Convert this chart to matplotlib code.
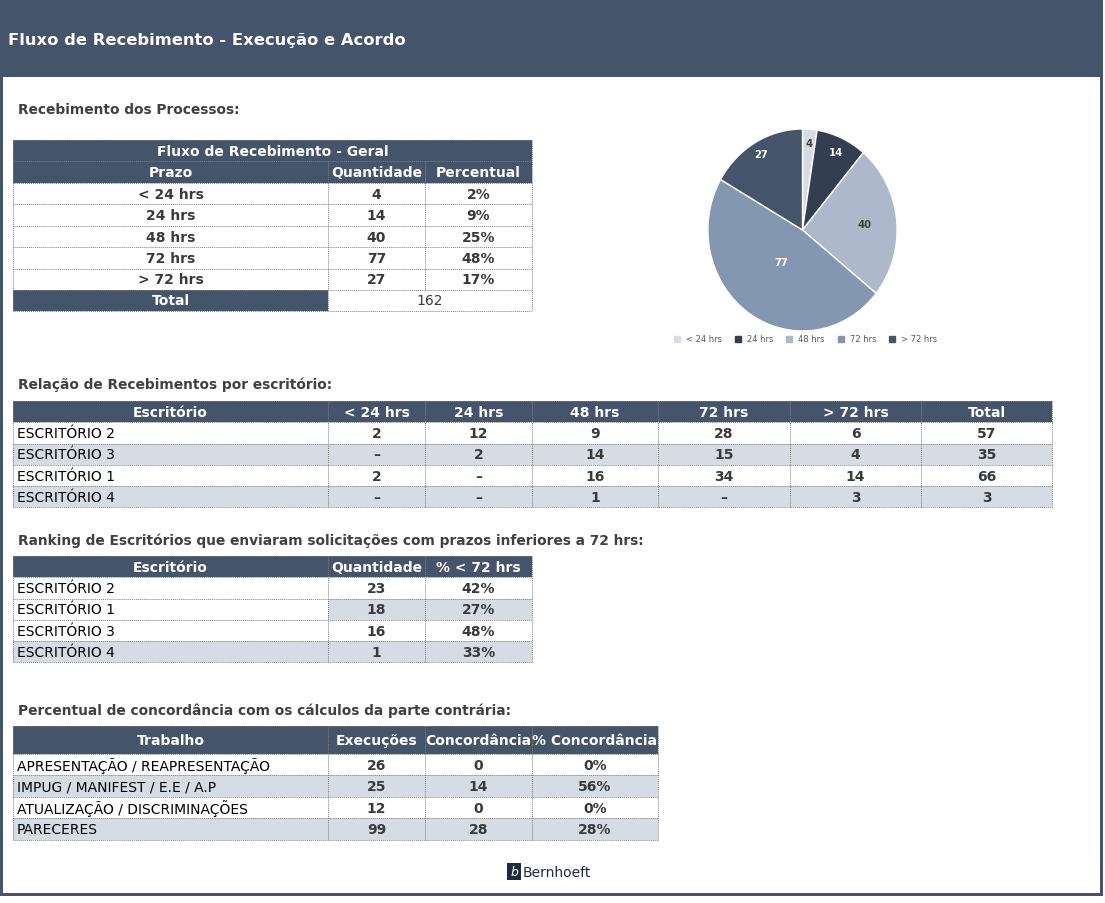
import numpy as np
import matplotlib.pyplot as plt
from matplotlib.patches import Rectangle
from matplotlib.lines import Line2D

# cores do painel
NAVY = '#44546A'
SHADE = '#D6DCE4'
GRID = '#7F7F7F'
TXT = '#3A3A3A'

# ---- dados ----
prazos = ['< 24 hrs', '24 hrs', '48 hrs', '72 hrs', '> 72 hrs']
quantidades = [4, 14, 40, 77, 27]
percentuais = ['2%', '9%', '25%', '48%', '17%']
total_geral = 162

pie_colors = ['#D6DCE4', '#333F50', '#ADB9CA', '#8497B0', '#44546A']
pie_label_colors = ['#404040', 'white', '#404040', 'white', 'white']
pie_label_r = [0.86, 0.85, 0.66, 0.39, 0.87]

escritorios = ['ESCRITÓRIO 2', 'ESCRITÓRIO 3', 'ESCRITÓRIO 1', 'ESCRITÓRIO 4']
esc_lt24 = [2, 0, 2, 0]
esc_24 = [12, 2, 0, 0]
esc_48 = [9, 14, 16, 1]
esc_72 = [28, 15, 34, 0]
esc_gt72 = [6, 4, 14, 3]
esc_total = [57, 35, 66, 3]

ranking_nomes = ['ESCRITÓRIO 2', 'ESCRITÓRIO 1', 'ESCRITÓRIO 3', 'ESCRITÓRIO 4']
ranking_qtd = [23, 18, 16, 1]
ranking_pct = ['42%', '27%', '48%', '33%']

trabalhos = ['APRESENTAÇÃO / REAPRESENTAÇÃO', 'IMPUG / MANIFEST / E.E / A.P',
             'ATUALIZAÇÃO / DISCRIMINAÇÕES', 'PARECERES']
execucoes = [26, 25, 12, 99]
concordancias = [0, 14, 0, 28]
pct_concordancia = ['0%', '56%', '0%', '28%']

FS = 10  # fonte das tabelas


def fmt(v):
    return '–' if v == 0 else str(v)


def cell(ax, x0, x1, y0, y1, text, fill='white', color=TXT, bold=True,
         ha='center', size=FS, clip=False):
    ax.add_patch(Rectangle((x0, y0), x1 - x0, y1 - y0, facecolor=fill,
                           edgecolor='none', zorder=1))
    tx = x0 + 4 if ha == 'left' else (x0 + x1) / 2
    t = ax.text(tx, (y0 + y1) / 2 + 0.5, text, ha=ha, va='center', color=color,
                fontsize=size, fontweight='bold' if bold else 'normal', zorder=3)
    if clip:
        t.set_clip_path(Rectangle((x0, y0), x1 - x0, y1 - y0,
                                  transform=ax.transData))


def grid(ax, xs, ys):
    for x in xs:
        ax.plot([x, x], [ys[0], ys[-1]], color=GRID, lw=0.7,
                ls=(0, (1, 1)), zorder=2)
    for y in ys:
        ax.plot([xs[0], xs[-1]], [y, y], color=GRID, lw=0.7,
                ls=(0, (1, 1)), zorder=2)


fig = plt.figure(figsize=(11.05, 9.04), dpi=100)
ax = fig.add_axes([0, 0, 1, 1])
ax.set_xlim(0, 1105)
ax.set_ylim(904, 0)
ax.axis('off')

# moldura
ax.add_patch(Rectangle((0, 0), 1103, 897, facecolor=NAVY, edgecolor='none', zorder=0))
ax.add_patch(Rectangle((3, 78), 1097, 816, facecolor='white', edgecolor='none', zorder=0))
ax.text(8, 41, 'Fluxo de Recebimento - Execução e Acordo', color='white',
        fontsize=11.8, fontweight='bold', va='center', ha='left')


def heading(y, text):
    ax.text(18, y, text, color='#404040', fontsize=9.9, fontweight='bold',
            va='center', ha='left')


# ---- tabela 1 ----
heading(110, 'Recebimento dos Processos:')
xs1 = [13, 328, 425, 532]
ys1 = [141, 162, 183.5, 205, 226.5, 248, 269.5, 290.5, 311.5]
cell(ax, xs1[0], xs1[3], ys1[0], ys1[1], 'Fluxo de Recebimento - Geral',
     fill=NAVY, color='white')
for j, h in enumerate(['Prazo', 'Quantidade', 'Percentual']):
    cell(ax, xs1[j], xs1[j + 1], ys1[1], ys1[2], h, fill=NAVY, color='white')
for i in range(len(prazos)):
    y0, y1 = ys1[i + 2], ys1[i + 3]
    cell(ax, xs1[0], xs1[1], y0, y1, prazos[i])
    cell(ax, xs1[1], xs1[2], y0, y1, str(quantidades[i]))
    cell(ax, xs1[2], xs1[3], y0, y1, percentuais[i])
cell(ax, xs1[0], xs1[1], ys1[7], ys1[8], 'Total', fill=NAVY, color='white')
cell(ax, xs1[1], xs1[3], ys1[7], ys1[8], str(total_geral), bold=False)
grid(ax, [13, 532], ys1)
for x in xs1[1:3]:
    ax.plot([x, x], [ys1[1], ys1[7]], color=GRID, lw=0.7, ls=(0, (1, 1)), zorder=2)
ax.plot([328, 328], [ys1[7], ys1[8]], color=GRID, lw=0.7, ls=(0, (1, 1)), zorder=2)

# ---- pizza ----
pax = fig.add_axes([706 / 1105, 1 - 334 / 904, 193 / 1105, 206 / 904])
wedges, _ = pax.pie(quantidades, colors=pie_colors, startangle=90,
                    counterclock=False,
                    wedgeprops=dict(edgecolor='white', linewidth=1.0))
pax.set_aspect('auto')
pax.set_xlim(-1.02, 1.02)
pax.set_ylim(-1.02, 1.02)
for w, v, c, r in zip(wedges, quantidades, pie_label_colors, pie_label_r):
    ang = np.deg2rad((w.theta1 + w.theta2) / 2)
    pax.text(r * np.cos(ang), r * np.sin(ang), str(v), ha='center', va='center',
             color=c, fontsize=7.2, fontweight='bold')
handles = [Line2D([], [], marker='s', ls='none', color=c, markersize=4.5)
           for c in pie_colors]
fig.legend(handles, prazos, loc='center', bbox_to_anchor=(803 / 1105, 1 - 340 / 904),
           ncol=5, frameon=False, fontsize=6, handletextpad=0.1,
           columnspacing=0.9, labelcolor='#595959')

# ---- tabela 2 ----
heading(385, 'Relação de Recebimentos por escritório:')
xs2 = [13, 328, 425, 532, 658, 790, 921, 1052]
ys2 = [402, 423, 444.5, 465.5, 487, 508]
for j, h in enumerate(['Escritório'] + prazos + ['Total']):
    cell(ax, xs2[j], xs2[j + 1], ys2[0], ys2[1], h, fill=NAVY, color='white')
cols2 = [esc_lt24, esc_24, esc_48, esc_72, esc_gt72, esc_total]
for i, nome in enumerate(escritorios):
    fill = SHADE if i % 2 else 'white'
    y0, y1 = ys2[i + 1], ys2[i + 2]
    cell(ax, xs2[0], xs2[1], y0, y1, nome, fill=fill, color='black', bold=False,
         ha='left')
    for j, col in enumerate(cols2):
        cell(ax, xs2[j + 1], xs2[j + 2], y0, y1, fmt(col[i]), fill=fill)
grid(ax, xs2, ys2)

# ---- tabela 3 ----
heading(541, 'Ranking de Escritórios que enviaram solicitações com prazos inferiores a 72 hrs:')
xs3 = [13, 328, 425, 532]
ys3 = [557, 578, 599.5, 620.5, 642, 663]
for j, h in enumerate(['Escritório', 'Quantidade', '% < 72 hrs']):
    cell(ax, xs3[j], xs3[j + 1], ys3[0], ys3[1], h, fill=NAVY, color='white')
for i, nome in enumerate(ranking_nomes):
    fill = SHADE if i % 2 else 'white'
    y0, y1 = ys3[i + 1], ys3[i + 2]
    cell(ax, xs3[0], xs3[1], y0, y1, nome, fill=SHADE if i == 3 else 'white',
         color='black', bold=False, ha='left')
    cell(ax, xs3[1], xs3[2], y0, y1, str(ranking_qtd[i]), fill=fill)
    cell(ax, xs3[2], xs3[3], y0, y1, ranking_pct[i], fill=fill)
grid(ax, xs3, ys3)

# ---- tabela 4 ----
heading(711, 'Percentual de concordância com os cálculos da parte contrária:')
xs4 = [13, 328, 425, 532, 658]
ys4 = [727, 755, 776, 797.5, 819, 841]
for j, h in enumerate(['Trabalho', 'Execuções', 'Concordância', '% Concordância']):
    cell(ax, xs4[j], xs4[j + 1], ys4[0], ys4[1], h, fill=NAVY, color='white',
         clip=True)
for i, nome in enumerate(trabalhos):
    fill = SHADE if i % 2 else 'white'
    y0, y1 = ys4[i + 1], ys4[i + 2]
    cell(ax, xs4[0], xs4[1], y0, y1, nome, fill=fill, color='black', bold=False,
         ha='left')
    cell(ax, xs4[1], xs4[2], y0, y1, str(execucoes[i]), fill=fill)
    cell(ax, xs4[2], xs4[3], y0, y1, str(concordancias[i]), fill=fill)
    cell(ax, xs4[3], xs4[4], y0, y1, pct_concordancia[i], fill=fill)
grid(ax, xs4, ys4)

# ---- logo ----
ax.add_patch(Rectangle((507, 864), 14, 17, facecolor='#1F2A44', edgecolor='none'))
ax.text(514, 872.5, 'b', color='white', fontsize=9, fontstyle='italic',
        ha='center', va='center')
ax.text(523, 873, 'Bernhoeft', color='#1F2A44', fontsize=10, ha='left', va='center')

fig.savefig('out.png', dpi=100)
